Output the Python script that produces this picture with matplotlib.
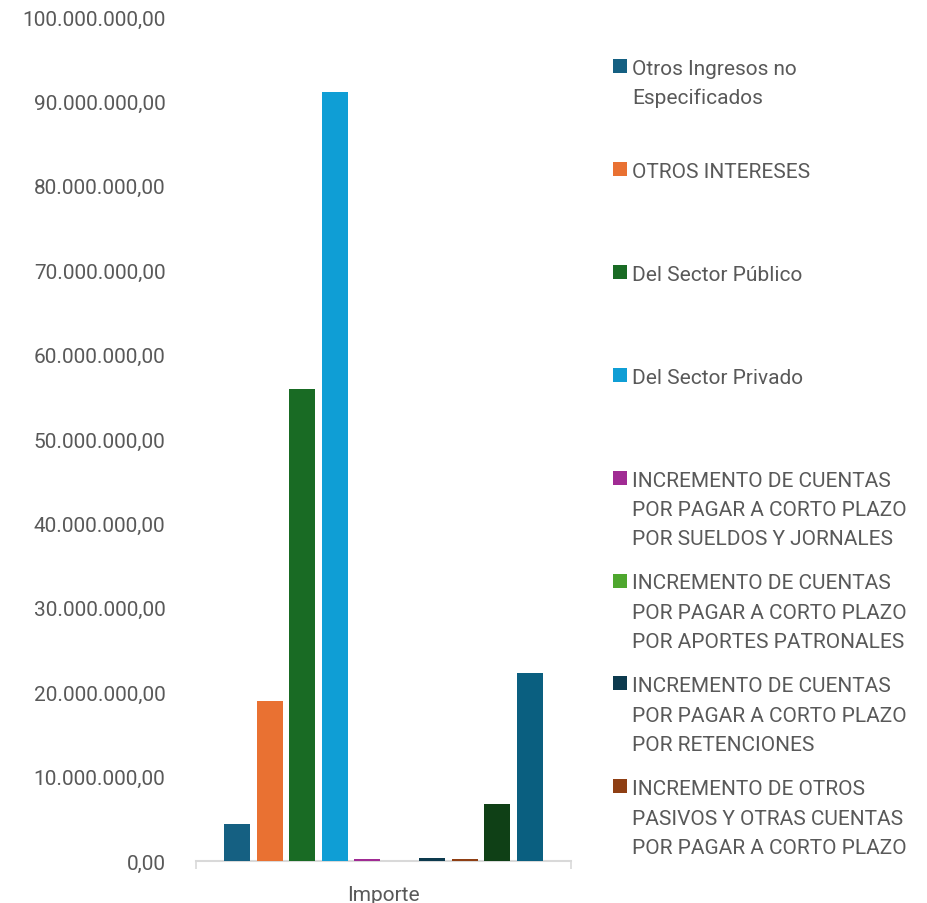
import matplotlib
matplotlib.use("Agg")
import matplotlib.pyplot as plt
from matplotlib.patches import Rectangle
from matplotlib.ticker import FuncFormatter, FixedLocator

plt.rcParams['font.family'] = ['Roboto', 'DejaVu Sans']

category = "Importe"
values = [4.35e6, 18.95e6, 55.9e6, 91.1e6, 0.18e6, 0.0, 0.3e6, 0.18e6, 6.8e6, 22.3e6]
colors = ["#156082", "#E97132", "#196B24", "#0F9ED5", "#A02B93", "#4EA72E",
          "#0D3A4E", "#8F3F14", "#0F4016", "#0A5F80"]
legend_labels = [
    "Otros Ingresos no\nEspecificados",
    "OTROS INTERESES",
    "Del Sector Público",
    "Del Sector Privado",
    "INCREMENTO DE CUENTAS\nPOR PAGAR A CORTO PLAZO\nPOR SUELDOS Y JORNALES",
    "INCREMENTO DE CUENTAS\nPOR PAGAR A CORTO PLAZO\nPOR APORTES PATRONALES",
    "INCREMENTO DE CUENTAS\nPOR PAGAR A CORTO PLAZO\nPOR RETENCIONES",
    "INCREMENTO DE OTROS\nPASIVOS Y OTRAS CUENTAS\nPOR PAGAR A CORTO PLAZO",
]
yticks = [i * 10e6 for i in range(11)]

W, H = 927, 904
fig = plt.figure(figsize=(W / 100, H / 100), dpi=100)
ax = fig.add_axes([196 / W, 1 - 862 / H, 375 / W, (862 - 18) / H])

xs = list(range(len(values)))
ax.bar(xs, values, width=0.8, color=colors, zorder=3)

ax.set_xlim(-1.26, len(values) - 1 + 1.26)
ax.set_ylim(0, 100e6)

def fmt(v, pos):
    s = f"{v:,.2f}"
    return s.replace(",", "X").replace(".", ",").replace("X", ".")

ax.yaxis.set_major_locator(FixedLocator(yticks))
ax.yaxis.set_major_formatter(FuncFormatter(fmt))
ax.tick_params(axis='y', length=0, pad=22, labelsize=15, labelcolor="#595959")

ax.set_xticks([(len(values) - 1) / 2])
ax.set_xticklabels([category])
ax.tick_params(axis='x', which='major', length=0, pad=17, labelsize=15, labelcolor="#595959")
ax.set_xticks([-1.26, len(values) - 1 + 1.26], minor=True)
ax.tick_params(axis='x', which='minor', length=6, width=1.2, color="#D9D9D9", direction='out')

for s in ['top', 'right', 'left']:
    ax.spines[s].set_visible(False)
ax.spines['bottom'].set_color("#D9D9D9")
ax.spines['bottom'].set_linewidth(1.5)
ax.spines['bottom'].set_zorder(1)

# legend (Excel style: marker at first line, fixed slot per entry)
for i, lab in enumerate(legend_labels):
    yc = 67 + 102.9 * i
    fig.patches.append(Rectangle((613 / W, 1 - (yc + 7) / H), 14 / W, 14 / H,
                                 transform=fig.transFigure, facecolor=colors[i],
                                 edgecolor='none'))
    for j, line in enumerate(lab.split("\n")):
        yb = yc + 8 + 29.3 * j
        fig.text(632 / W, 1 - yb / H, line, fontsize=15, color="#595959",
                 va='baseline', ha='left')

fig.savefig("out.png", dpi=100)
